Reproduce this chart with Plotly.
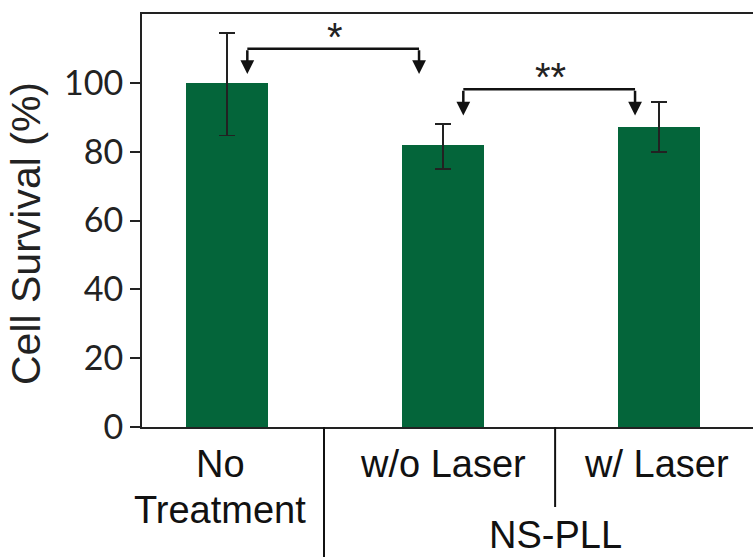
import plotly.graph_objects as go

# ---- data ----
categories = ["No<br>Treatment", "w/o Laser", "w/ Laser"]
survival = [100.0, 81.8, 87.3]
err_plus = [14.4, 6.3, 7.1]
err_minus = [15.3, 6.8, 7.4]
y_ticks = [0, 20, 40, 60, 80, 100]
group_label = "NS-PLL"
# significance comparisons
comp_from = [0, 1]
comp_to = [1, 2]
comp_label = ["*", "**"]
comp_level = [109.9, 98.1]
comp_tip = [102.6, 90.5]

# ---- layout constants ----
W, H = 753, 557
ML, MR, MT, MB = 142, 0, 14, 130
plot_w = W - ML - MR
plot_h = H - MT - MB
px_per_cat = 216.0
x0 = -(226.8 - 142) / px_per_cat
x1 = x0 + plot_w / px_per_cat
green = "#04653A"
ink = "#111111"
lab_font = dict(family="Liberation Sans", size=38, color=ink)


def pyp(ypx):
    """pixel row -> paper y"""
    return (H - MB - ypx) / plot_h


fig = go.Figure()
fig.add_trace(go.Bar(
    x=list(range(len(categories))), y=survival, width=0.38,
    marker=dict(color=green, line=dict(width=0)),
    error_y=dict(type="data", symmetric=False, array=err_plus, arrayminus=err_minus,
                 color="#222222", thickness=1.6, width=8),
    showlegend=False,
))

shapes = []
annotations = []
# brackets with downward arrows
for a, b, lab, lvl, tip in zip(comp_from, comp_to, comp_label, comp_level, comp_tip):
    xa = a + 0.095
    xb = b - 0.11
    shapes.append(dict(type="line", xref="x", yref="y", x0=xa, x1=xb, y0=lvl, y1=lvl,
                       line=dict(color=ink, width=2.5)))
    for xx in (xa, xb):
        annotations.append(dict(x=xx, y=tip, xref="x", yref="y", ax=xx, ay=lvl,
                                axref="x", ayref="y", showarrow=True, arrowhead=2,
                                arrowsize=1.1, arrowwidth=2.5, arrowcolor=ink, text=""))
    annotations.append(dict(x=(a + b) / 2, y=lvl, xref="x", yref="y", text=lab,
                            showarrow=False, yanchor="bottom", yshift=-12,
                            font=dict(family="Liberation Sans", size=40, color="#222222")))

# category labels (one annotation per line)
cat_shift = [-0.03, 0.0, -0.01]
for i, (cat, sh) in enumerate(zip(categories, cat_shift)):
    for k, line in enumerate(cat.split("<br>")):
        annotations.append(dict(x=i + sh, y=pyp(464 + 46 * k), xref="x", yref="paper",
                                text=line, showarrow=False, yanchor="middle",
                                xanchor="center", font=lab_font))

# group separators below axis
shapes.append(dict(type="line", xref="x", yref="paper", x0=0.45, x1=0.45,
                   y0=0, y1=pyp(H + 5), line=dict(color=ink, width=2)))
shapes.append(dict(type="line", xref="x", yref="paper", x0=1.52, x1=1.52,
                   y0=0, y1=pyp(507), line=dict(color=ink, width=2)))

annotations.append(dict(x=1.52, y=pyp(535), xref="x", yref="paper", text=group_label,
                        showarrow=False, yanchor="middle", font=lab_font))

# y title
annotations.append(dict(x=0, y=pyp(234), xref="paper", yref="paper", xshift=-116,
                        text="Cell Survival (%)", textangle=-90, showarrow=False,
                        xanchor="center", yanchor="middle",
                        font=dict(family="Liberation Sans", size=41, color="#222222")))

fig.update_layout(
    width=W, height=H,
    margin=dict(l=ML, r=MR, t=MT, b=MB, pad=0),
    plot_bgcolor="white", paper_bgcolor="white",
    shapes=shapes, annotations=annotations,
    xaxis=dict(range=[x0, x1], showticklabels=False,
               showgrid=False, zeroline=False, showline=True, linecolor="#222222",
               linewidth=2, mirror=True, ticks=""),
    yaxis=dict(range=[0, 120], tickvals=y_ticks, showgrid=False, zeroline=False,
               showline=True, linecolor="#222222", linewidth=2, ticks="outside",
               ticklen=10, tickwidth=1.5, tickcolor="#222222", ticksuffix="\u00a0",
               tickfont=dict(family="Lato", size=34, color="#222222")),
    bargap=0,
)

fig.write_html("out.html", config={"displayModeBar": False},
               post_script="document.body.style.margin='0';document.body.style.overflow='hidden';")
